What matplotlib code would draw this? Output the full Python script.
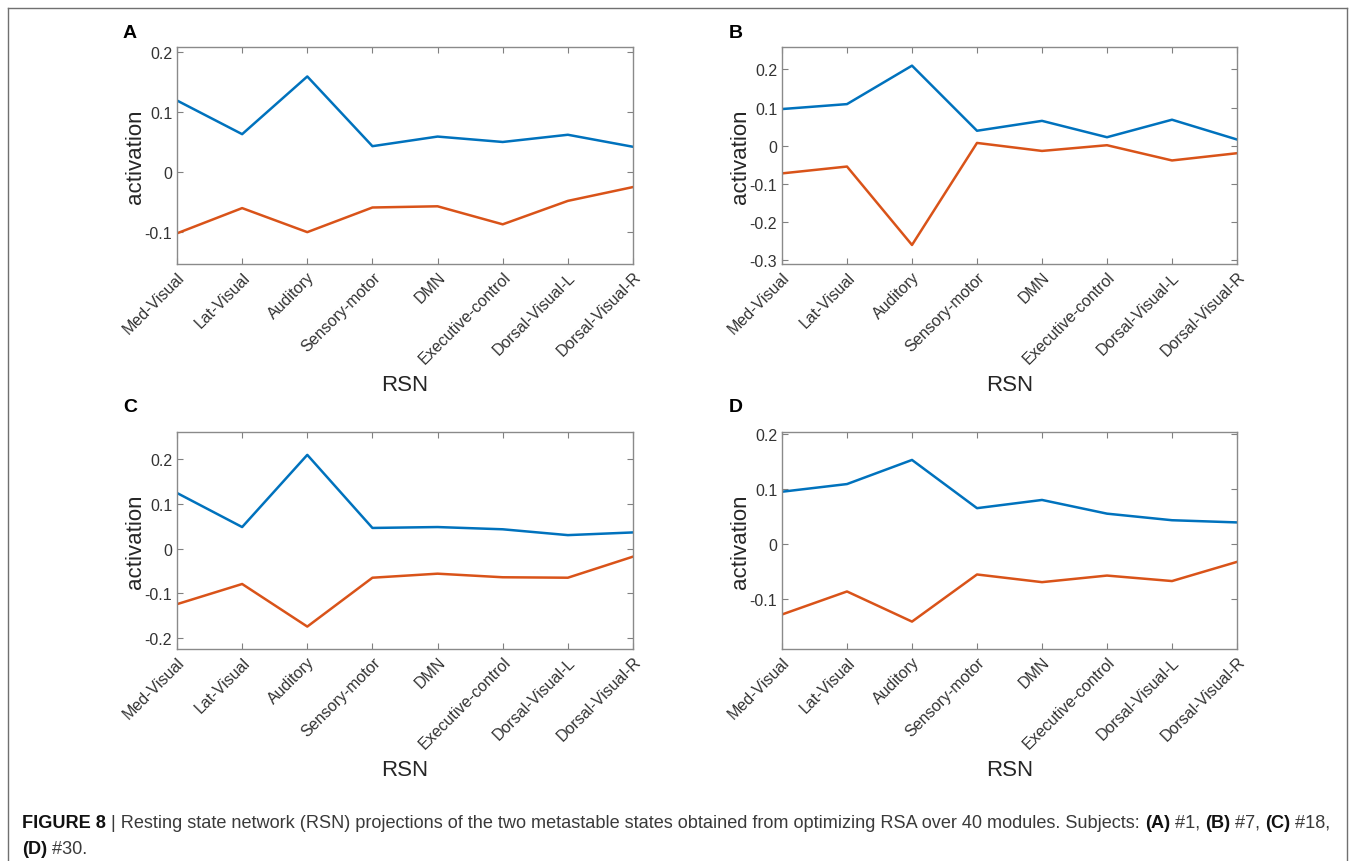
import matplotlib
matplotlib.use('Agg')
import matplotlib.pyplot as plt
import matplotlib.transforms as mtransforms
from matplotlib import font_manager
from matplotlib.lines import Line2D

plt.rcParams['font.family'] = ['Liberation Sans', 'DejaVu Sans']

W, H = 1355, 862

rsn = ['Med-Visual', 'Lat-Visual', 'Auditory', 'Sensory-motor', 'DMN',
       'Executive-control', 'Dorsal-Visual-L', 'Dorsal-Visual-R']

# state 1 (blue) and state 2 (orange) per subject
blue_A = [0.119, 0.063, 0.159, 0.043, 0.059, 0.050, 0.062, 0.042]
red_A = [-0.102, -0.060, -0.100, -0.059, -0.057, -0.087, -0.048, -0.025]

blue_B = [0.096, 0.109, 0.210, 0.039, 0.065, 0.022, 0.068, 0.016]
red_B = [-0.073, -0.055, -0.261, 0.007, -0.014, 0.001, -0.039, -0.020]

blue_C = [0.124, 0.048, 0.209, 0.046, 0.048, 0.043, 0.030, 0.036]
red_C = [-0.124, -0.079, -0.174, -0.065, -0.056, -0.064, -0.065, -0.018]

blue_D = [0.095, 0.109, 0.153, 0.065, 0.080, 0.055, 0.043, 0.039]
red_D = [-0.129, -0.087, -0.142, -0.056, -0.070, -0.058, -0.068, -0.033]

letters = ['A', 'B', 'C', 'D']
ylims = [(-0.153, 0.208), (-0.311, 0.259), (-0.224, 0.26), (-0.192, 0.204)]
yticks = [[-0.1, 0, 0.1, 0.2], [-0.3, -0.2, -0.1, 0, 0.1, 0.2],
          [-0.2, -0.1, 0, 0.1, 0.2], [-0.1, 0, 0.1, 0.2]]
blues = [blue_A, blue_B, blue_C, blue_D]
reds = [red_A, red_B, red_C, red_D]

# axes boxes in pixels: left, right, top, bottom
boxes = [(177, 633, 48, 265), (782, 1237, 48, 265),
         (177, 633, 433, 650), (782, 1237, 433, 650)]
letter_pos = [(130, 34), (736, 34), (130, 407), (736, 407)]

fig = plt.figure(figsize=(W / 100, H / 100), dpi=100)

for i in range(4):
    l, r, t, b = boxes[i]
    ax = fig.add_axes([l / W, 1 - b / H, (r - l) / W, (b - t) / H])
    x = range(len(rsn))
    ax.plot(x, blues[i], color='#0072BD', lw=1.8)
    ax.plot(x, reds[i], color='#D95319', lw=1.8)
    ax.set_xlim(0, len(rsn) - 1)
    ax.set_ylim(*ylims[i])
    ax.set_yticks(yticks[i])
    ax.set_yticklabels(['0' if v == 0 else '%g' % v for v in yticks[i]])
    ax.set_xticks(list(x))
    ax.set_xticklabels(rsn, rotation=45, ha='right', va='top',
                       rotation_mode='anchor')
    off = mtransforms.ScaledTranslation(8 / 100, 0, fig.dpi_scale_trans)
    for lab in ax.get_xticklabels():
        lab.set_transform(lab.get_transform() + off)
    ax.tick_params(direction='in', top=True, right=True, length=4,
                   width=0.8, color='#808080', labelcolor='#333333',
                   labelsize=11.5)
    for s in ax.spines.values():
        s.set_color('#8a8a8a')
        s.set_linewidth(1.0)
    ax.set_ylabel('activation', fontsize=16, color='#262626')
    ax.yaxis.set_label_coords(-0.068, 0.5)
    ax.set_xlabel('RSN', fontsize=16, color='#262626')
    ax.xaxis.set_label_coords(0.5, -0.505)
    fig.text(letter_pos[i][0] / W, 1 - letter_pos[i][1] / H, letters[i],
             fontsize=14, fontweight='bold', ha='center', va='center')

# outer frame
fx0, fx1, fy0 = 8, 1347, 9
for xs, ys in [((fx0, fx1), (fy0, fy0)), ((fx0, fx0), (fy0, H)),
               ((fx1, fx1), (fy0, H))]:
    fig.add_artist(Line2D([v / W for v in xs], [1 - v / H for v in ys],
                          color='#707070', lw=1.0))

# caption
names = {f.name for f in font_manager.fontManager.ttflist}
cap_fam = ['Liberation Sans Narrow', 'DejaVu Sans'] if 'Liberation Sans Narrow' in names \
    else ['Liberation Sans', 'DejaVu Sans']

line1 = [('FIGURE 8', True), (' | Resting state network (RSN) projections of the two metastable '
         'states obtained from optimizing RSA over 40 modules. Subjects: ', False),
         ('(A)', True), (' #1, ', False), ('(B)', True), (' #7, ', False),
         ('(C)', True), (' #18,', False)]
line2 = [('(D)', True), (' #30.', False)]

renderer = fig.canvas.get_renderer()


def text_w(s, size, bold):
    prop = font_manager.FontProperties(family=cap_fam, size=size,
                                       weight='bold' if bold else 'normal')
    w1 = renderer.get_text_width_height_descent('|' + s + '|', prop, ismath=False)[0]
    w2 = renderer.get_text_width_height_descent('||', prop, ismath=False)[0]
    return w1 - w2


base = 10
total = sum(text_w(s, base, bd) for s, bd in line1)
cap_size = base * 1313 / total


def draw_line(runs, x0, y0):
    xx = x0
    for s, bd in runs:
        fig.text(xx / W, 1 - y0 / H, s, fontsize=cap_size, family=cap_fam,
                 fontweight='bold' if bd else 'normal',
                 color='#111111' if bd else '#3a3a3a', ha='left', va='baseline')
        xx += text_w(s, cap_size, bd)


draw_line(line1, 22, 828)
draw_line(line2, 22, 854)

fig.savefig('out.png', dpi=100)
